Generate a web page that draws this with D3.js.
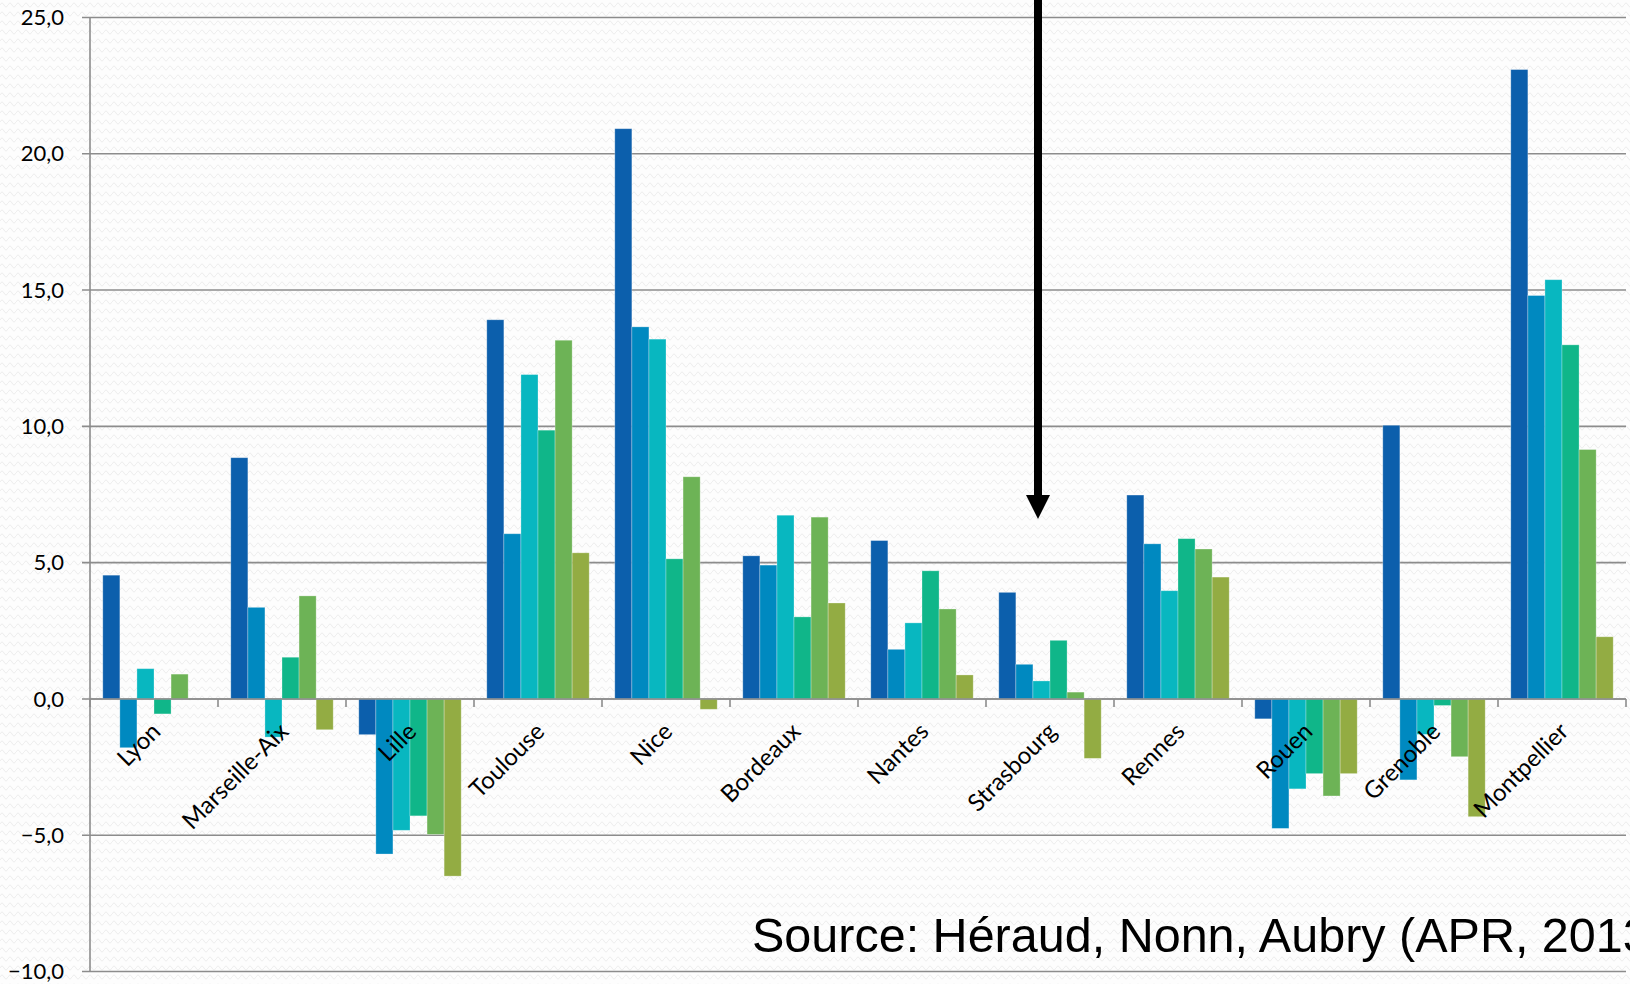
<!DOCTYPE html>
<html>
<head>
<meta charset="utf-8">
<script src="https://cdnjs.cloudflare.com/ajax/libs/d3/7.8.5/d3.min.js"></script>
<style>
  html, body { margin: 0; padding: 0; background: #fff; overflow: hidden; }
  svg { display: block; }
</style>
</head>
<body>
<svg width="1630" height="984"></svg>
<script>
// data
var cities = ["Lyon", "Marseille-Aix", "Lille", "Toulouse", "Nice", "Bordeaux",
  "Nantes", "Strasbourg", "Rennes", "Rouen", "Grenoble", "Montpellier"];

var serie1 = [4.54, 8.85, -1.31, 13.91, 20.92, 5.25, 5.81, 3.91, 7.48, -0.73, 10.04, 23.09];
var serie2 = [-1.79, 3.36, -5.69, 6.06, 13.65, 4.91, 1.82, 1.27, 5.69, -4.75, -2.97, 14.80];
var serie3 = [1.11, -1.40, -4.82, 11.90, 13.20, 6.74, 2.79, 0.66, 3.97, -3.30, -1.30, 15.38];
var serie4 = [-0.55, 1.53, -4.29, 9.86, 5.14, 3.01, 4.70, 2.15, 5.88, -2.74, -0.24, 12.99];
var serie5 = [0.91, 3.78, -4.97, 13.16, 8.15, 6.67, 3.30, 0.25, 5.50, -3.56, -2.12, 9.15];
var serie6 = [0, -1.13, -6.50, 5.36, -0.38, 3.52, 0.88, -2.18, 4.47, -2.74, -4.32, 2.28];

var yTicks = [-10, -5, 0, 5, 10, 15, 20, 25];
var colors = ["#0c5fac", "#0089c0", "#08b7c0", "#10b689", "#6db356", "#93ac43"];
var source = "Source: Héraud, Nonn, Aubry (APR, 2013)";

function init() {
  var svg = d3.select("svg");
  var series = [serie1, serie2, serie3, serie4, serie5, serie6];

  // faint wavy background
  var defs = svg.append("defs");
  var pat = defs.append("pattern")
    .attr("id", "waves")
    .attr("patternUnits", "userSpaceOnUse")
    .attr("width", 8).attr("height", 9);
  pat.append("rect").attr("width", 8).attr("height", 9).attr("fill", "#fdfdfd");
  pat.append("path")
    .attr("d", "M0,5 Q2,1 4,5 T8,5")
    .attr("fill", "none")
    .attr("stroke", "#ededed")
    .attr("stroke-width", 1);
  svg.append("rect").attr("width", 1630).attr("height", 984).attr("fill", "url(#waves)");

  var left = 90, right = 1626;
  var x = d3.scaleBand().domain(cities).range([left, right])
    .paddingInner(0.2).paddingOuter(0.1);
  var xs = d3.scaleBand().domain(d3.range(series.length)).range([0, x.bandwidth()]);
  var y = d3.scaleLinear().domain([-10, 25]).range([971.5, 17.5]);

  // gridlines
  svg.append("g").selectAll("line")
    .data(yTicks)
    .enter().append("line")
    .attr("x1", left - 8).attr("x2", right)
    .attr("y1", function(d) { return y(d); })
    .attr("y2", function(d) { return y(d); })
    .attr("stroke", "#8c8c8c")
    .attr("stroke-width", 1.6);

  // y labels
  svg.append("g").selectAll("text")
    .data(yTicks)
    .enter().append("text")
    .attr("x", 64)
    .attr("y", function(d) { return y(d); })
    .attr("dy", "0.35em")
    .attr("text-anchor", "end")
    .style("font-family", "Lato, 'Open Sans', sans-serif")
    .style("font-size", "22px")
    .attr("fill", "#000")
    .text(function(d) { return d3.format(".1f")(d).replace(".", ","); });

  // bars
  var groups = svg.append("g").selectAll("g")
    .data(series)
    .enter().append("g")
    .attr("fill", function(d, i) { return colors[i]; });

  groups.selectAll("rect")
    .data(function(d, i) { return d.map(function(v, j) { return { s: i, c: cities[j], v: v }; }); })
    .enter().append("rect")
    .attr("x", function(d) { return x(d.c) + xs(d.s); })
    .attr("width", xs.bandwidth())
    .attr("y", function(d) { return y(Math.max(0, d.v)); })
    .attr("height", function(d) { return Math.abs(y(d.v) - y(0)); })
    .attr("stroke", "rgba(255,255,255,0.35)")
    .attr("stroke-width", 0.8);

  // axes
  var axisColor = "#8c8c8c";
  svg.append("line")
    .attr("x1", left).attr("x2", left)
    .attr("y1", y(25)).attr("y2", y(-10))
    .attr("stroke", axisColor).attr("stroke-width", 1.6);
  svg.append("line")
    .attr("x1", left).attr("x2", right)
    .attr("y1", y(0)).attr("y2", y(0))
    .attr("stroke", axisColor).attr("stroke-width", 1.6);

  var step = x.step();
  svg.append("g").selectAll("line")
    .data(d3.range(cities.length + 1))
    .enter().append("line")
    .attr("x1", function(i) { return left + i * step; })
    .attr("x2", function(i) { return left + i * step; })
    .attr("y1", y(0)).attr("y2", y(0) + 8)
    .attr("stroke", axisColor).attr("stroke-width", 1.6);

  // rotated city labels
  svg.append("g").selectAll("text")
    .data(cities)
    .enter().append("text")
    .attr("transform", function(d) {
      return "translate(" + (x(d) + x.bandwidth() / 2 + 8) + "," + (y(0) + 34) + ") rotate(-45)";
    })
    .attr("text-anchor", "end")
    .style("font-family", "Lato, 'Open Sans', sans-serif")
    .style("font-size", "24px")
    .attr("fill", "#000")
    .text(function(d) { return d; });

  // arrow pointing at Strasbourg
  var ax = x("Strasbourg") + x.bandwidth() / 2 - 12;
  var tip = y(6.6);
  svg.append("line")
    .attr("x1", ax).attr("x2", ax)
    .attr("y1", 0).attr("y2", tip - 20)
    .attr("stroke", "#000").attr("stroke-width", 8);
  svg.append("path")
    .attr("d", "M" + (ax - 12) + "," + (tip - 24) + "L" + (ax + 12) + "," + (tip - 24) + "L" + ax + "," + tip + "Z")
    .attr("fill", "#000");

  // source note
  svg.append("text")
    .attr("x", 752).attr("y", 952)
    .style("font-family", "'Liberation Sans', Arial, sans-serif")
    .style("font-size", "48.5px")
    .attr("fill", "#000")
    .text(source);
}

init();
</script>
</body>
</html>
